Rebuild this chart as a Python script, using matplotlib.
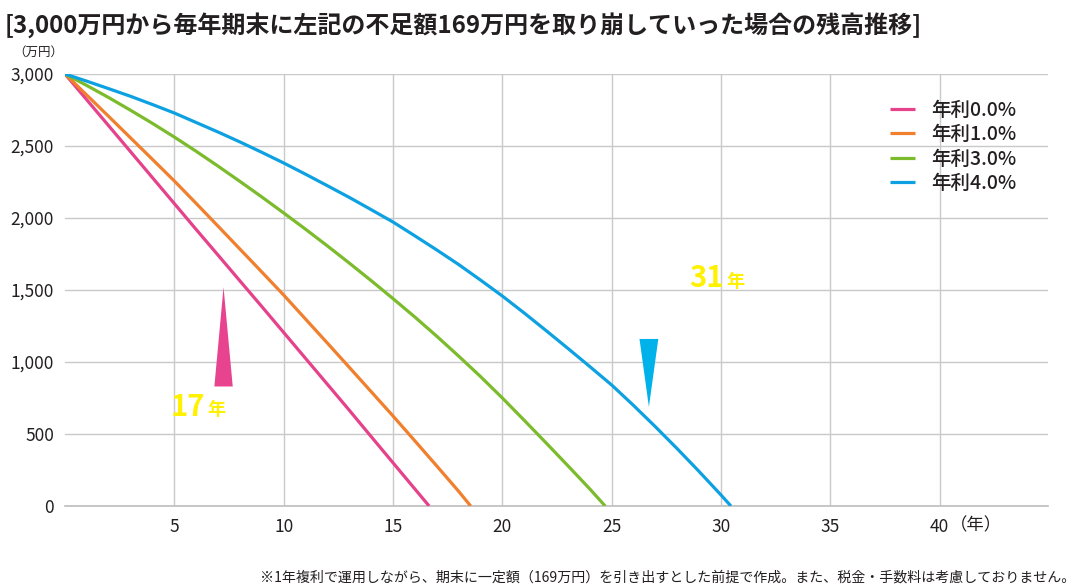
import numpy as np
import matplotlib
matplotlib.use("Agg")
import matplotlib.pyplot as plt
from matplotlib.patches import Polygon

plt.rcParams["font.family"] = ["Noto Sans CJK JP", "DejaVu Sans"]

# balance (万円), by year
years_0 = [0, 1, 2, 3, 4, 5, 6, 7, 8, 9, 10, 11, 12, 13, 14, 15, 16, 16.65]
bal_0 = [3000, 2820, 2640, 2460, 2280, 2100, 1920, 1742, 1563, 1385, 1205,
         1025, 845, 665, 482, 300, 118, 0]

years_1 = [0, 1, 2, 3, 4, 5, 6, 7, 8, 9, 10, 11, 12, 13, 14, 15, 16, 17, 18, 18.55]
bal_1 = [3000, 2853, 2705, 2556, 2407, 2257, 2101, 1943, 1784, 1625, 1465,
         1298, 1131, 963, 794, 625, 452, 278, 102, 0]

years_3 = [0, 1, 2, 3, 4, 5, 6, 7, 8, 9, 10, 11, 12, 13, 14, 15, 16, 17, 18,
           19, 20, 21, 22, 23, 24, 24.7]
bal_3 = [3000, 2920, 2836, 2748, 2657, 2562, 2463, 2360, 2254, 2146, 2035,
         1922, 1806, 1687, 1565, 1440, 1312, 1179, 1041, 899, 750, 595, 438,
         279, 118, 0]

years_4 = [0, 1, 2, 3, 4, 5, 6, 7, 8, 9, 10, 11, 12, 13, 14, 15, 16, 17, 18,
           19, 20, 21, 22, 23, 24, 25, 26, 27, 28, 29, 30, 30.45]
bal_4 = [3000, 2950, 2898, 2845, 2788, 2729, 2663, 2597, 2528, 2456, 2382,
         2304, 2224, 2143, 2058, 1972, 1876, 1778, 1677, 1569, 1458, 1340,
         1218, 1094, 968, 840, 698, 550, 397, 239, 76, 0]

labels = ["年利0.0%", "年利1.0%", "年利3.0%", "年利4.0%"]
colors = ["#e5428b", "#f07f2e", "#7bbb2c", "#0ea1e2"]

x_ticks = [5, 10, 15, 20, 25, 30, 35, 40]
y_ticks = [0, 500, 1000, 1500, 2000, 2500, 3000]

title = "[3,000万円から毎年期末に左記の不足額169万円を取り崩していった場合の残高推移]"
note = ("※1年複利で運用しながら、期末に一定額（169万円）を引き出すとした前提で作成。"
        "また、税金・手数料は考慮しておりません。")

text_c = "#231f20"
grid_c = "#c9c9c9"

fig = plt.figure(figsize=(10.8, 5.87), dpi=100)
ax = fig.add_axes([65 / 1080, 1 - 506 / 587, (1048 - 65) / 1080, (506 - 74) / 587])

series = [(years_0, bal_0), (years_1, bal_1), (years_3, bal_3), (years_4, bal_4)]
for (xs, ys), lab, c in zip(series, labels, colors):
    ax.plot(xs, ys, color=c, lw=2.3, label=lab, solid_capstyle="butt", zorder=3)

ax.set_xlim(0, 44.95)
ax.set_ylim(0, 3000)
ax.set_xticks(x_ticks)
ax.set_yticks(y_ticks)
ax.set_yticklabels([f"{v:,}" for v in y_ticks])
ax.tick_params(length=0, labelsize=12.5, colors=text_c, pad=8)
ax.tick_params(axis="x", pad=9)
ax.grid(True, color=grid_c, lw=1)
ax.set_axisbelow(True)
for s in ["top", "right", "left"]:
    ax.spines[s].set_visible(False)
ax.spines["bottom"].set_color("#bdbdbd")
ax.spines["bottom"].set_linewidth(1.2)

# unit labels
fig.text(38 / 1080, 1 - 52 / 587, "（万円）", fontsize=9, color=text_c,
         ha="center", va="center")
ax.text(40.45, -135, "（年）", fontsize=12.5, color=text_c, ha="left", va="center")

# arrows and callouts
tip_x, tip_y, half_w, h = 7.25, 1520, 0.42, 690
ax.add_patch(Polygon([[tip_x, tip_y], [tip_x - half_w, tip_y - h], [tip_x + half_w, tip_y - h]],
                     closed=True, color="#e8438e", lw=0, zorder=4))
tip_x, tip_y, half_w, h = 26.7, 688, 0.43, 472
ax.add_patch(Polygon([[tip_x, tip_y], [tip_x - half_w, tip_y + h], [tip_x + half_w, tip_y + h]],
                     closed=True, color="#00b2ea", lw=0, zorder=4))

yel = "#fff100"
ax.text(4.85, 690, "17", fontsize=21, color=yel, fontweight="bold", va="center", ha="left")
ax.text(6.5, 670, "年", fontsize=13, color=yel, fontweight="bold", va="center", ha="left")
ax.text(28.55, 1580, "31", fontsize=21, color=yel, fontweight="bold", va="center", ha="left")
ax.text(30.25, 1560, "年", fontsize=13, color=yel, fontweight="bold", va="center", ha="left")

leg = ax.legend(loc="upper right", bbox_to_anchor=(1026 / 1080, 1 - 91 / 587),
                bbox_transform=fig.transFigure, frameon=False,
                prop={"size": 14, "weight": "medium"},
                handlelength=1.3, handletextpad=0.8, labelspacing=0.28, borderpad=0)
for t in leg.get_texts():
    t.set_color(text_c)

fig.text(5 / 1080, 1 - 25 / 587, title, fontsize=17.3, fontweight="bold",
         color=text_c, ha="left", va="center")
fig.text(1075 / 1080, 1 - 578 / 587, note, fontsize=10.1, color=text_c,
         ha="right", va="center")

fig.savefig("out.png", dpi=100, facecolor="white")
